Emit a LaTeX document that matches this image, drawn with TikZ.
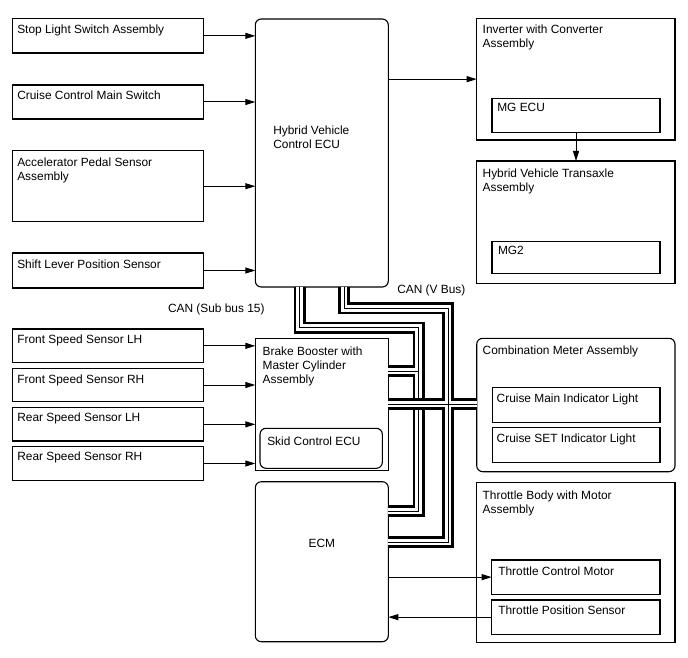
\documentclass[tikz,border=0pt]{standalone}
\usepackage{fontspec}
\setmainfont{Liberation Sans}
\usetikzlibrary{arrows.meta}
\begin{document}
\begin{tikzpicture}[x=1pt,y=-1pt,
  box/.style={draw=black, line width=1.1pt, anchor=north west, inner sep=0pt, outer sep=0pt},
  rbox/.style={box, rounded corners=6pt},
  lbl/.style={anchor=north west, inner sep=0pt, outer sep=0pt, align=left, font=\fontsize{11.9}{14}\selectfont},
  arr/.style={line width=1pt, -{Triangle[length=10pt,width=6pt]}},
  bus/.style={line width=12pt, draw=black, line join=miter,
     postaction={draw=white, line width=6.6pt},
     postaction={draw=black, line width=1pt}}]
\fill[white] (0,0) rectangle (688,658);
\useasboundingbox (0,0) rectangle (688,658);

% left column
\node[box, minimum width=191pt, minimum height=34.3pt] (stop) at (12.7,18.7) {};
\node[box, minimum width=191pt, minimum height=34pt] (cruise) at (12.7,85) {};
\node[box, minimum width=191pt, minimum height=71pt] (accel) at (12.7,150.7) {};
\node[box, minimum width=191pt, minimum height=35pt] (shift) at (12.7,253) {};
\node[box, minimum width=191pt, minimum height=33.7pt] (fslh) at (12.7,329) {};
\node[box, minimum width=191pt, minimum height=33.4pt] (fsrh) at (12.7,368.3) {};
\node[box, minimum width=191pt, minimum height=33.3pt] (rslh) at (12.7,407.7) {};
\node[box, minimum width=191pt, minimum height=33.6pt] (rsrh) at (12.7,446.7) {};

% middle column
\node[rbox, minimum width=133pt, minimum height=268pt] (hv) at (255.3,19) {};
\node[box, minimum width=133pt, minimum height=132.4pt] (brake) at (255.3,338.3) {};
\node[rbox, minimum width=122.3pt, minimum height=40pt] (skid) at (260,428.3) {};
\node[rbox, minimum width=133pt, minimum height=160pt] (ecm) at (255.3,481.7) {};

% right column
\node[box, minimum width=198.3pt, minimum height=121.7pt] (inv) at (476.7,18.3) {};
\node[box, minimum width=168pt, minimum height=34.4pt] (mgecu) at (492,98.3) {};
\node[box, minimum width=198.3pt, minimum height=122.3pt] (hvt) at (476.7,161) {};
\node[box, minimum width=168pt, minimum height=31.6pt] (mg2) at (492,241.7) {};
\node[rbox, minimum width=198.3pt, minimum height=133.4pt] (combo) at (476.7,338.3) {};
\node[box, minimum width=167.7pt, minimum height=34.6pt] (cmil) at (492.3,387.7) {};
\node[box, minimum width=167.7pt, minimum height=34.6pt] (csil) at (492.3,427.7) {};
\node[box, minimum width=198.3pt, minimum height=159.6pt] (tb) at (476.7,482.7) {};
\node[box, minimum width=168.3pt, minimum height=34.3pt] (tcm) at (491.7,560) {};
\node[box, minimum width=168.3pt, minimum height=34.3pt] (tps) at (491.7,600) {};

% texts
\node[lbl] (tstop) at (17.3,24.8) {Stop Light Switch Assembly};
\node[lbl] (tcruise) at (17.3,90.8) {Cruise Control Main Switch};
\node[lbl] (taccel) at (17.3,157.5) {Accelerator Pedal Sensor\\Assembly};
\node[lbl] (tshift) at (17.3,259.8) {Shift Lever Position Sensor};
\node[lbl] (tfslh) at (17.3,334.8) {Front Speed Sensor LH};
\node[lbl] (tfsrh) at (17.3,374.8) {Front Speed Sensor RH};
\node[lbl] (trslh) at (17.3,413.2) {Rear Speed Sensor LH};
\node[lbl] (trsrh) at (17.3,452.2) {Rear Speed Sensor RH};
\node[lbl] (thv) at (273.3,125.5) {Hybrid Vehicle\\Control ECU};
\node[lbl] (tbrake) at (262.7,346.8) {Brake Booster with\\Master Cylinder\\Assembly};
\node[lbl] (tskid) at (267.3,436.5) {Skid Control ECU};
\node[lbl, anchor=base] (tecm) at (321.8,547) {ECM};
\node[lbl] (tinv) at (482.7,24.8) {Inverter with Converter\\Assembly};
\node[lbl] (tmgecu) at (497.3,103.2) {MG ECU};
\node[lbl] (thvt) at (482.7,169) {Hybrid Vehicle Transaxle\\Assembly};
\node[lbl] (tmg2) at (498,246.5) {MG2};
\node[lbl] (tcombo) at (482.7,346.2) {Combination Meter Assembly};
\node[lbl] (tcmil) at (496.7,394.2) {Cruise Main Indicator Light};
\node[lbl] (tcsil) at (496.7,434.2) {Cruise SET Indicator Light};
\node[lbl] (ttb) at (482.7,490.8) {Throttle Body with Motor\\Assembly};
\node[lbl] (ttcm) at (498.3,566.5) {Throttle Control Motor};
\node[lbl] (ttps) at (498.3,605.5) {Throttle Position Sensor};
\node[lbl, anchor=base west] (tvbus) at (397.3,293) {CAN (V Bus)};
\node[lbl, anchor=base west] (tsub) at (168,312) {CAN (Sub bus 15)};

% arrows
\draw[arr] (stop.east) -- (stop.east -| hv.west);
\draw[arr] (cruise.east) -- (cruise.east -| hv.west);
\draw[arr] (accel.east) -- (accel.east -| hv.west);
\draw[arr] (shift.east) -- (shift.east -| hv.west);
\draw[arr] (fslh.east) -- (fslh.east -| brake.west);
\draw[arr] (fsrh.east) -- (fsrh.east -| brake.west);
\draw[arr] (rslh.east) -- (rslh.east -| brake.west);
\draw[arr] (rsrh.east) -- (rsrh.east -| brake.west);
\draw[arr] (hv.east |- inv.west) -- (inv.west);
\draw[arr] (mgecu.south) -- (mgecu.south |- hvt.north);
\draw[arr] (ecm.east |- tcm.west) -- (tcm.west);
\draw[arr] (tps.west) -- (tps.west -| ecm.east);

% CAN buses
\coordinate (aX) at (299.5,0);
\coordinate (aY) at (418.5,327.5);
\coordinate (aZ) at (0,511);
\coordinate (aB) at (418.5,371);
\coordinate (bX) at (344,0);
\coordinate (bY) at (448,308.3);
\coordinate (bZ) at (0,542);
\coordinate (hz) at (0,404);
\draw[bus] (hv.south -| aX) |- (aY) |- (ecm.east |- aZ)
           (brake.east |- aB) -- (aB);
\draw[bus] (hv.south -| bX) |- (bY) |- (ecm.east |- bZ)
           (brake.east |- hz) -- (combo.west |- hz);
\end{tikzpicture}
\end{document}
